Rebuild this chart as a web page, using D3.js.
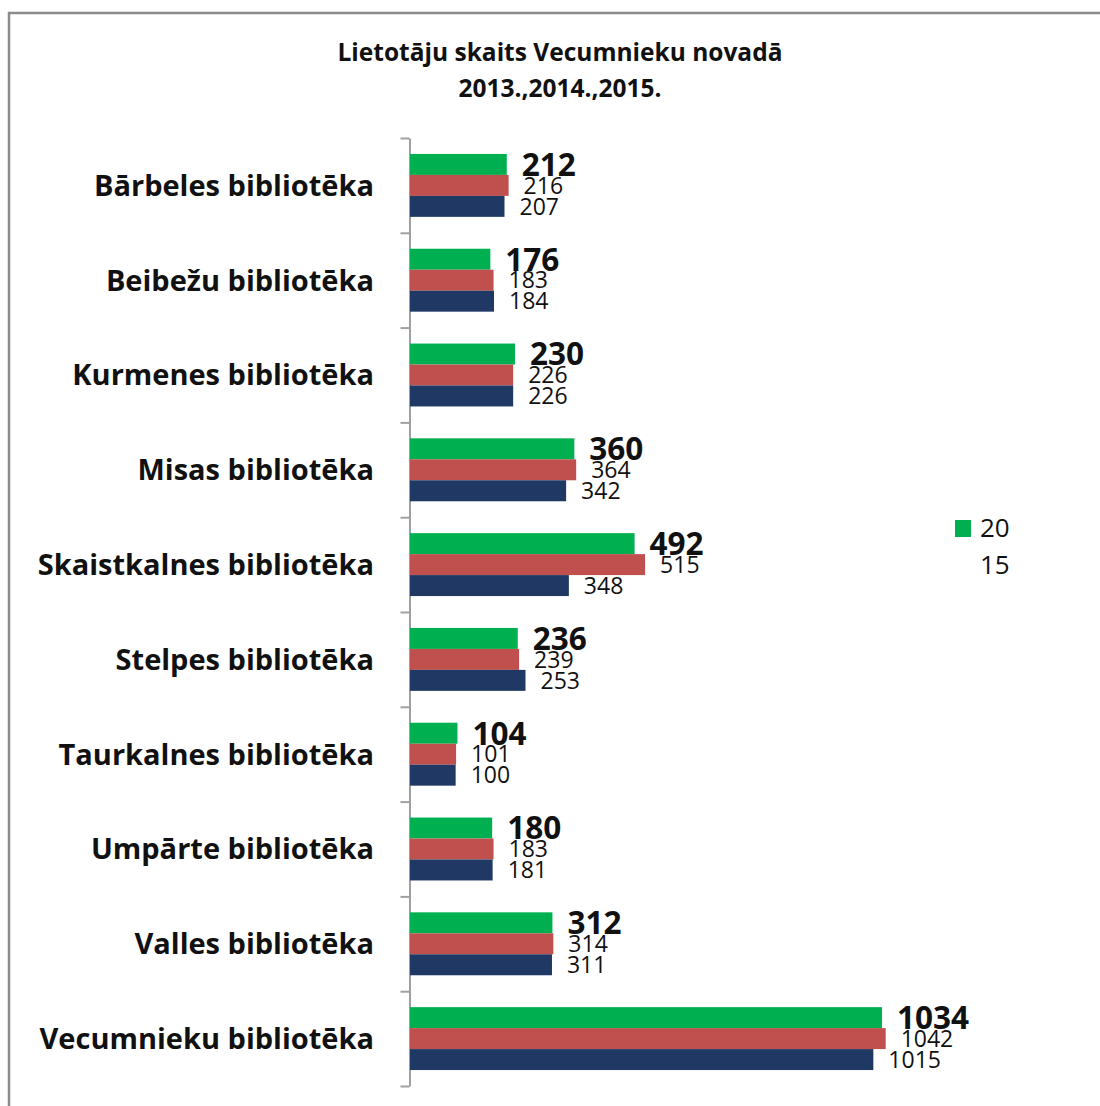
<!DOCTYPE html>
<html>
<head>
<meta charset="utf-8">
<script src="https://cdn.jsdelivr.net/npm/d3@7"></script>
<style>
  body { margin: 0; background: #fff; }
  svg { font-family: "Open Sans", "Noto Sans", sans-serif; }
</style>
</head>
<body>
<div id="chart"></div>
<script>
// data
var categories = ["Bārbeles bibliotēka", "Beibežu bibliotēka", "Kurmenes bibliotēka", "Misas bibliotēka",
  "Skaistkalnes bibliotēka", "Stelpes bibliotēka", "Taurkalnes bibliotēka", "Umpārte bibliotēka",
  "Valles bibliotēka", "Vecumnieku bibliotēka"];
var seriesNames = ["2015", "2014", "2013"];
var values2015 = [212, 176, 230, 360, 492, 236, 104, 180, 312, 1034];
var values2014 = [216, 183, 226, 364, 515, 239, 101, 183, 314, 1042];
var values2013 = [207, 184, 226, 342, 348, 253, 100, 181, 311, 1015];
var colors = ["#00b050", "#c0504d", "#1f3864"];
var titleLines = ["Lietotāju skaits Vecumnieku novadā", "2013.,2014.,2015."];
var legendLabels = ["20", "15"];

var seriesValues = [values2015, values2014, values2013];

var width = 1100, height = 1106;
var svg = d3.select("#chart").append("svg")
    .attr("width", width)
    .attr("height", height);

// outer frame (runs off the right and bottom edge)
svg.append("path")
    .attr("d", "M9,1106 V13 H1100")
    .attr("fill", "none")
    .attr("stroke", "#8c8c8c")
    .attr("stroke-width", 2.5);

// title
svg.append("g").selectAll("text")
    .data(titleLines)
  .enter().append("text")
    .attr("x", 560)
    .attr("y", function(d, i) { return 61 + i * 36; })
    .attr("text-anchor", "middle")
    .style("font-size", "24.5px")
    .style("font-weight", "bold")
    .attr("fill", "#111")
    .text(function(d) { return d; });

var x = d3.scaleLinear().domain([0, 1200]).range([410, 410 + 1200 * 0.4565]);
var y0 = d3.scaleBand().domain(categories).range([138, 1086]).paddingInner(0);
var y1 = d3.scaleBand().domain(seriesNames).range([0, y0.bandwidth()]).paddingOuter(0.76);

// axis with ticks on band boundaries
var yTicks = d3.scaleLinear().domain([0, categories.length]).range([138, 1086]);
var yAxis = d3.axisLeft(yTicks).ticks(categories.length).tickFormat("").tickSizeOuter(0).tickSizeInner(9);
var axisG = svg.append("g")
    .attr("transform", "translate(409.5,0)")
    .call(yAxis);
axisG.selectAll("path, line").attr("stroke", "#a0a0a0").attr("stroke-width", 2);

// category labels
svg.append("g").selectAll("text")
    .data(categories)
  .enter().append("text")
    .attr("x", 374)
    .attr("y", function(d) { return y0(d) + y0.bandwidth() / 2; })
    .attr("dy", "0.36em")
    .attr("text-anchor", "end")
    .style("font-size", "29px")
    .style("font-weight", "bold")
    .attr("fill", "#111")
    .text(function(d) { return d; });

// bars + value labels
var groups = svg.append("g").selectAll("g")
    .data(categories)
  .enter().append("g")
    .attr("transform", function(d) { return "translate(0," + y0(d) + ")"; });

seriesNames.forEach(function(s, si) {
  groups.append("rect")
      .attr("x", x(0))
      .attr("y", y1(s))
      .attr("width", function(d, i) { return x(seriesValues[si][i]) - x(0); })
      .attr("height", y1.bandwidth())
      .attr("fill", colors[si]);

  groups.append("text")
      .attr("x", function(d, i) { return x(seriesValues[si][i]) + 15; })
      .attr("y", y1(s) + y1.bandwidth() / 2)
      .attr("dy", "0.36em")
      .style("font-size", si === 0 ? "31.5px" : "23px")
      .style("font-weight", si === 0 ? "bold" : "normal")
      .attr("fill", "#111")
      .text(function(d, i) { return seriesValues[si][i]; });
});

// legend (labels truncated like in the original)
svg.append("rect")
    .attr("x", 955).attr("y", 520)
    .attr("width", 16).attr("height", 17)
    .attr("fill", colors[0]);
svg.append("g").selectAll("text")
    .data(legendLabels)
  .enter().append("text")
    .attr("x", 980)
    .attr("y", function(d, i) { return 528 + i * 37; })
    .attr("dy", "0.36em")
    .style("font-size", "26px")
    .attr("fill", "#111")
    .text(function(d) { return d; });
</script>
</body>
</html>
